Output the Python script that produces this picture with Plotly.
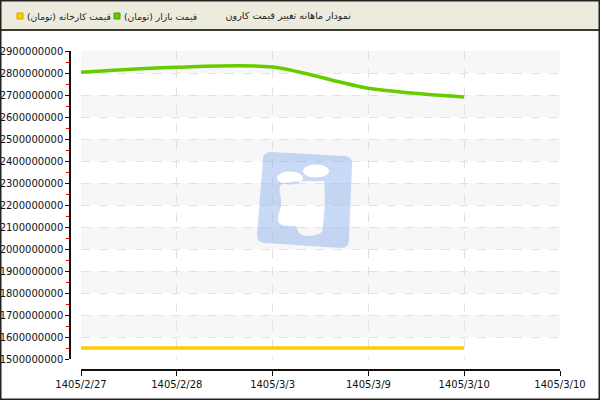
import plotly.graph_objects as go

## Data

dates = ["1405/2/27", "1405/2/28", "1405/3/3", "1405/3/9", "1405/3/10", "1405/3/10"]
market_price = [2803000000, 2826000000, 2827000000, 2731000000, 2691000000]
factory_price = [1550000000, 1550000000, 1550000000, 1550000000, 1550000000]
market_name = "قیمت بازار (تومان)"
factory_name = "قیمت کارخانه (تومان)"
chart_title = "نمودار ماهانه تغییر قیمت کارون"
y_ticks = list(range(1500000000, 2900000001, 100000000))

W, H = 600, 400
font = "DejaVu Sans"
green = "#66cc00"
yellow = "#ffcc00"


def px(x):
    return x / W


def py(y):
    return 1 - y / H


def path(points):
    # points: list of (cmd, [(x, y), ...]) in pixels -> paper path string
    out = []
    for cmd, pts in points:
        out.append(cmd + " " + " ".join("{:.4f} {:.4f}".format(px(a), py(b)) for a, b in pts))
    return " ".join(out) + " Z"


def ellipse(cx, cy, rx, ry):
    k = 0.5523
    return [
        ("M", [(cx + rx, cy)]),
        ("C", [(cx + rx, cy - k * ry), (cx + k * rx, cy - ry), (cx, cy - ry)]),
        ("C", [(cx - k * rx, cy - ry), (cx - rx, cy - k * ry), (cx - rx, cy)]),
        ("C", [(cx - rx, cy + k * ry), (cx - k * rx, cy + ry), (cx, cy + ry)]),
        ("C", [(cx + k * rx, cy + ry), (cx + rx, cy + k * ry), (cx + rx, cy)]),
    ]


idx = list(range(len(dates)))

fig = go.Figure()
fig.add_trace(go.Scatter(x=idx[:len(factory_price)], y=factory_price, mode="lines",
                         name=factory_name, line=dict(color=yellow, width=3.5),
                         showlegend=False, hoverinfo="skip"))
fig.add_trace(go.Scatter(x=idx[:len(market_price)], y=market_price, mode="lines",
                         name=market_name,
                         line=dict(color=green, width=3.5, shape="spline", smoothing=0.8),
                         showlegend=False, hoverinfo="skip"))

shapes = []
# alternating bands
for i in range(1, len(y_ticks) - 1, 2):
    shapes.append(dict(type="rect", xref="x", yref="y", x0=0, x1=len(dates) - 1,
                       y0=y_ticks[i], y1=y_ticks[i + 1], fillcolor="#f7f7f7",
                       line_width=0, layer="below"))

# watermark logo
outer = [
    ("M", [(271, 152)]), ("L", [(344, 156)]), ("Q", [(352, 156), (352, 164)]),
    ("L", [(349, 240)]), ("Q", [(349, 248), (341, 248)]), ("L", [(265, 243)]),
    ("Q", [(257, 243), (257, 235)]), ("L", [(263, 160)]), ("Q", [(263, 152), (271, 152)]),
]
body = [
    ("M", [(282, 184)]), ("C", [(295, 180), (312, 182), (324, 181)]),
    ("C", [(326, 200), (324, 220), (322, 232)]),
    ("C", [(315, 237), (303, 237), (299, 233)]),
    ("C", [(297, 230), (298, 227), (294, 226)]),
    ("C", [(287, 226), (278, 226), (278, 220)]),
    ("C", [(278, 212), (282, 208), (281, 200)]),
    ("C", [(280, 192), (278, 187), (282, 184)]),
]
logo = path(outer) + " " + path(ellipse(316, 171, 13, 6.5)) + " " + \
    path(ellipse(290, 178, 13, 6.5)) + " " + path(body)
shapes.append(dict(type="path", xref="paper", yref="paper", path=logo,
                   fillcolor="#7ea7ea", opacity=0.42, line_width=0, layer="above",
                   fillrule="evenodd"))

# header bar and outer frame
shapes.append(dict(type="rect", xref="paper", yref="paper", x0=0, x1=1,
                   y0=py(30), y1=1, fillcolor="#ecebde",
                   line=dict(color="#3a3a30", width=2), layer="below"))
shapes.append(dict(type="rect", xref="paper", yref="paper", x0=0, x1=1,
                   y0=0, y1=1, line=dict(color="#222222", width=3),
                   fillcolor="rgba(0,0,0,0)", layer="above"))

# legend squares
for x0, col, edge in [(17, yellow, "#d9a800"), (114, green, "#4f9e00")]:
    shapes.append(dict(type="rect", xref="paper", yref="paper", x0=px(x0), x1=px(x0 + 6),
                       y0=py(19), y1=py(13), fillcolor=col,
                       line=dict(color=edge, width=1), layer="above"))

annotations = [
    dict(text=factory_name + "\u200f", x=px(25), y=py(16), xanchor="left"),
    dict(text=market_name + "\u200f", x=px(122), y=py(16), xanchor="left"),
]
for a in annotations:
    a.update(xref="paper", yref="paper", yanchor="middle", showarrow=False,
             font=dict(family=font, size=9.2, color="#222"))

fig.update_layout(
    width=W, height=H,
    margin=dict(l=0, r=0, t=0, b=0, pad=0, autoexpand=False),
    paper_bgcolor="white", plot_bgcolor="white",
    font=dict(family=font, size=10, color="#111"),
    title=dict(text=chart_title, x=px(351), xanchor="right", y=py(16),
               yanchor="middle", font=dict(family=font, size=9.6, color="#222")),
    showlegend=False,
    shapes=shapes,
    annotations=annotations,
)
fig.update_xaxes(
    domain=[px(81), px(560)], anchor="free", position=py(370),
    range=[0, len(dates) - 1], tickvals=idx, ticktext=dates,
    showline=True, linecolor="#111", linewidth=1.5,
    ticks="outside", ticklen=5, tickcolor="#111",
    showgrid=True, gridcolor="#e2e2e2", griddash="dash", gridwidth=1,
    zeroline=False, tickfont=dict(size=10, color="#111"), automargin=False,
)
fig.update_yaxes(
    domain=[py(359), py(51)], anchor="free", position=px(70),
    range=[y_ticks[0], y_ticks[-1]], tickvals=y_ticks, tickformat="d",
    showline=True, linecolor="#111", linewidth=1.5,
    ticks="outside", ticklen=4, tickcolor="#111",
    minor=dict(dtick=50000000, ticks="outside", ticklen=3, tickcolor="red",
               showgrid=False),
    showgrid=True, gridcolor="#e2e2e2", griddash="dash", gridwidth=1,
    zeroline=False, tickfont=dict(size=10, color="#111"), automargin=False,
)

fig.write_html("out.html", config={"displayModeBar": False},
               post_script="document.body.style.margin='0';")
